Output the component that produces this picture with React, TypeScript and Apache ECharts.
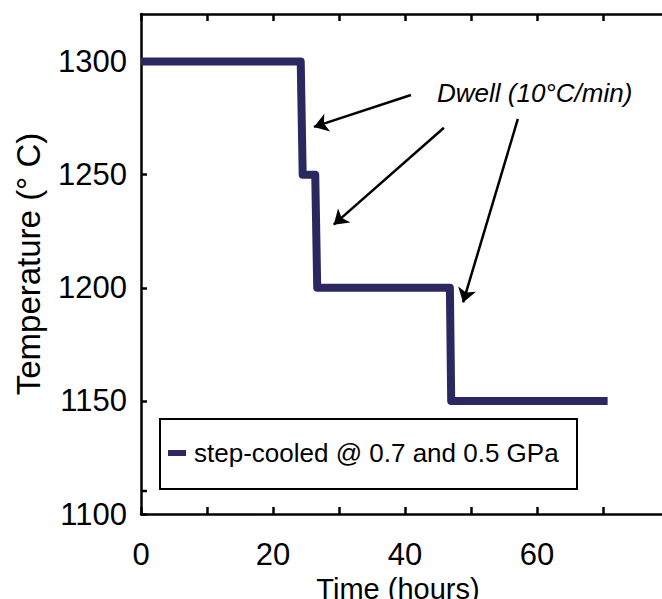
import React, { useEffect, useRef } from "react";
import * as echarts from "echarts";

const timeHours = [0, 24.2, 24.5, 26.4, 26.7, 46.8, 47.0, 70.7];
const temperatureC = [1300, 1300, 1250, 1250, 1200, 1200, 1150, 1150];
const seriesName = "step-cooled @ 0.7 and 0.5 GPa";
const annotationText = "Dwell (10°C/min)";
const arrowStarts = [[40.9, 1285.2], [45.9, 1270.7], [57.1, 1274.6]];
const arrowEnds = [[26.2, 1271.1], [29.2, 1227.9], [48.8, 1193.5]];
const xTickLabels = ["0", "20", "40", "60"];

export default function App() {
  const ref = useRef<HTMLDivElement>(null);
  useEffect(() => {
    if (!ref.current) return;
    const chart = echarts.init(ref.current, null, { renderer: "svg" });
    const font = "Arial, 'Liberation Sans', sans-serif";
    const lineColor = "#2b2860";
    const data = timeHours.map((t, i) => [t, temperatureC[i]]);
    const arrows = arrowStarts.map((s, i) => [{ coord: s }, { coord: arrowEnds[i] }]);
    chart.setOption({
      animation: false,
      backgroundColor: "#ffffff",
      grid: {
        left: 141,
        top: 14,
        width: 528,
        height: 500,
        containLabel: false,
        outerBoundsMode: "none",
      },
      legend: {
        left: 168,
        top: 440,
        padding: 0,
        icon: "rect",
        itemWidth: 18,
        itemHeight: 6,
        itemGap: 10,
        textStyle: { fontFamily: font, fontSize: 26, color: "#000", padding: [0, 0, 0, 3] },
        data: [seriesName],
      },
      xAxis: [
        {
          type: "value",
          min: 0,
          max: 80,
          interval: 10,
          position: "bottom",
          name: "Time (hours)",
          nameLocation: "middle",
          nameGap: 52,
          nameTextStyle: { fontFamily: font, fontSize: 29, color: "#000", padding: [0, 14, 0, 0] },
          axisLine: { show: true, onZero: false, lineStyle: { color: "#000", width: 2.5 } },
          axisTick: { show: true, inside: true, length: 7, lineStyle: { color: "#000", width: 2.5 } },
          axisLabel: {
            fontFamily: font,
            fontSize: 31,
            color: "#000",
            margin: 25,
            formatter: (v: number) => (xTickLabels.includes(String(v)) ? String(v) : ""),
          },
          splitLine: { show: false },
        },
        {
          type: "value",
          min: 0,
          max: 80,
          interval: 10,
          position: "top",
          axisLine: { show: true, onZero: false, lineStyle: { color: "#000", width: 2.5 } },
          axisTick: { show: true, inside: true, length: 7, lineStyle: { color: "#000", width: 2.5 } },
          axisLabel: { show: false },
          splitLine: { show: false },
        },
      ],
      yAxis: {
        type: "value",
        min: 1100,
        max: 1321,
        interval: 50,
        name: "Temperature (° C)",
        nameLocation: "middle",
        nameGap: 96,
        nameTextStyle: { fontFamily: font, fontSize: 33, color: "#000" },
        axisLine: { show: true, onZero: false, lineStyle: { color: "#000", width: 2.5 } },
        axisTick: { show: true, inside: true, length: 6, lineStyle: { color: "#000", width: 2.5 } },
        axisLabel: {
          fontFamily: font,
          fontSize: 31,
          color: "#000",
          margin: 14,
          showMaxLabel: false,
          formatter: (v: number) => String(v),
        },
        splitLine: { show: false },
      },
      series: [
        {
          name: seriesName,
          type: "line",
          data,
          symbol: "none",
          itemStyle: { color: lineColor },
          lineStyle: { color: lineColor, width: 8, join: "round", cap: "butt" },
          markLine: {
            silent: true,
            symbol: ["none", "arrow"],
            symbolSize: 14,
            label: { show: false },
            lineStyle: { color: "#000", width: 2.5, type: "solid" },
            itemStyle: { color: "#000" },
            emphasis: { disabled: true },
            data: arrows,
          },
        },
      ],
      graphic: [
        {
          type: "rect",
          shape: { x: 160, y: 419, width: 417, height: 70 },
          style: { fill: "none", stroke: "#000", lineWidth: 2 },
          z: 5,
        },
        {
          type: "line",
          shape: { x1: 141, y1: 491, x2: 147, y2: 491 },
          style: { stroke: "#000", lineWidth: 2.5 },
        },
        {
          type: "text",
          x: 437,
          y: 93,
          style: {
            text: annotationText,
            fontFamily: font,
            fontSize: 26,
            fontStyle: "italic",
            fill: "#000",
            verticalAlign: "middle",
          },
        },
      ],
    });
    return () => chart.dispose();
  }, []);
  return (
    <div
      ref={ref}
      style={{ position: "fixed", left: 0, top: 0, width: 662, height: 599, background: "#fff" }}
    />
  );
}
